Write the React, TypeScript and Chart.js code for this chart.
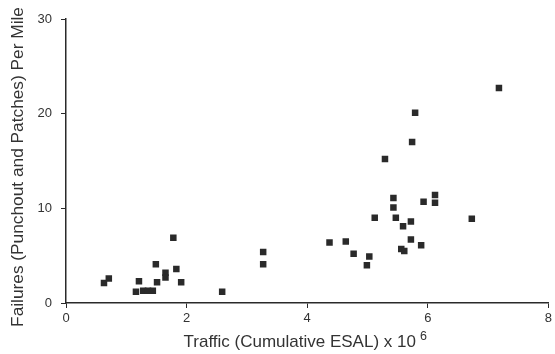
import React, { useEffect, useRef } from "react";
import { Chart, registerables } from "chart.js";

Chart.register(...registerables);

// Traffic (cumulative ESAL, millions)
const trafficX: number[] = [
  0.63, 0.71, 1.16, 1.21, 1.28, 1.36, 1.44, 1.49, 1.51, 1.65, 1.65, 1.78, 1.83, 1.91,
  2.59, 3.27, 3.27,
  4.37, 4.64, 4.77, 4.99, 5.03, 5.12, 5.29, 5.43, 5.43, 5.47, 5.56, 5.59, 5.61, 5.72,
  5.72, 5.74, 5.79, 5.89, 5.93, 6.12, 6.12, 6.73, 7.18,
];
// Failures per mile
const failuresY: number[] = [
  2.1, 2.6, 1.2, 2.3, 1.3, 1.3, 1.3, 4.1, 2.2, 3.2, 2.7, 6.9, 3.6, 2.2,
  1.2, 5.4, 4.1,
  6.4, 6.5, 5.2, 4.0, 4.9, 9.0, 15.2, 11.1, 10.1, 9.0, 5.7, 8.1, 5.5, 8.6,
  6.7, 17.0, 20.1, 6.1, 10.7, 11.4, 10.6, 8.9, 22.7,
];
const xTicks: number[] = [0, 2, 4, 6, 8];
const yTicks: number[] = [0, 10, 20, 30];
const xTitle = "Traffic (Cumulative ESAL) x 10";
const xTitleSup = "6";
const yTitle = "Failures (Punchout and Patches) Per Mile";

const FONT = "'Liberation Sans', Arial, Helvetica, sans-serif";
const INK = "#2a2a2a";

const titlePlugin = {
  id: "manualTitles",
  afterDraw(chart: any) {
    const ctx = chart.ctx;
    const area = chart.chartArea;
    ctx.save();
    ctx.fillStyle = "#333";
    // x title with superscript
    ctx.textBaseline = "alphabetic";
    ctx.textAlign = "left";
    ctx.font = `17px ${FONT}`;
    const w = ctx.measureText(xTitle).width;
    ctx.font = `12.5px ${FONT}`;
    const sw = ctx.measureText(xTitleSup).width;
    const total = w + 4 + sw;
    const cx = (area.left + area.right) / 2 - 2;
    const x0 = cx - total / 2;
    ctx.font = `17px ${FONT}`;
    ctx.fillText(xTitle, x0, 347);
    ctx.font = `12.5px ${FONT}`;
    ctx.fillText(xTitleSup, x0 + w + 4, 340);
    // y title
    ctx.font = `17.3px ${FONT}`;
    ctx.textAlign = "center";
    ctx.textBaseline = "middle";
    ctx.translate(18, (area.top + area.bottom) / 2 + 6);
    ctx.rotate(-Math.PI / 2);
    ctx.fillText(yTitle, 0, 0);
    ctx.restore();
  },
};

export default function App() {
  const ref = useRef<HTMLCanvasElement | null>(null);
  useEffect(() => {
    if (!ref.current) return;
    const data = trafficX.map((x, i) => ({ x, y: failuresY[i] }));
    const chart = new Chart(ref.current, {
      type: "scatter",
      data: {
        datasets: [
          {
            data,
            pointStyle: "rect",
            pointRadius: 4.6,
            backgroundColor: INK,
            borderColor: INK,
            borderWidth: 0,
          },
        ],
      },
      options: {
        animation: false,
        responsive: false,
        maintainAspectRatio: false,
        layout: { padding: { left: 0, right: 5, top: 19, bottom: 0 } },
        plugins: {
          legend: { display: false },
          tooltip: { enabled: false },
          title: { display: false },
        },
        scales: {
          x: {
            type: "linear",
            min: 0,
            max: 8,
            afterBuildTicks: (s: any) => {
              s.ticks = xTicks.map((v) => ({ value: v }));
            },
            afterFit: (s: any) => {
              s.height = 51;
            },
            ticks: {
              color: "#333",
              font: { family: FONT, size: 13 },
              padding: 3,
              maxRotation: 0,
            },
            grid: {
              drawOnChartArea: false,
              color: INK,
              tickLength: 5,
              tickWidth: 1,
            },
            border: { color: INK, width: 1.5 },
          },
          y: {
            type: "linear",
            min: 0,
            max: 30,
            afterBuildTicks: (s: any) => {
              s.ticks = yTicks.map((v) => ({ value: v }));
            },
            afterFit: (s: any) => {
              s.width = 66;
            },
            ticks: {
              color: "#333",
              font: { family: FONT, size: 13 },
              padding: 9,
            },
            grid: {
              drawOnChartArea: false,
              color: INK,
              tickLength: 5,
              tickWidth: 1,
            },
            border: { color: INK, width: 1.5 },
          },
        },
      },
      plugins: [titlePlugin],
    });
    return () => chart.destroy();
  }, []);
  return (
    <div style={{ position: "fixed", left: 0, top: 0, width: 555, height: 354, background: "#fff" }}>
      <canvas ref={ref} width={555} height={354} style={{ width: 555, height: 354 }} />
    </div>
  );
}
